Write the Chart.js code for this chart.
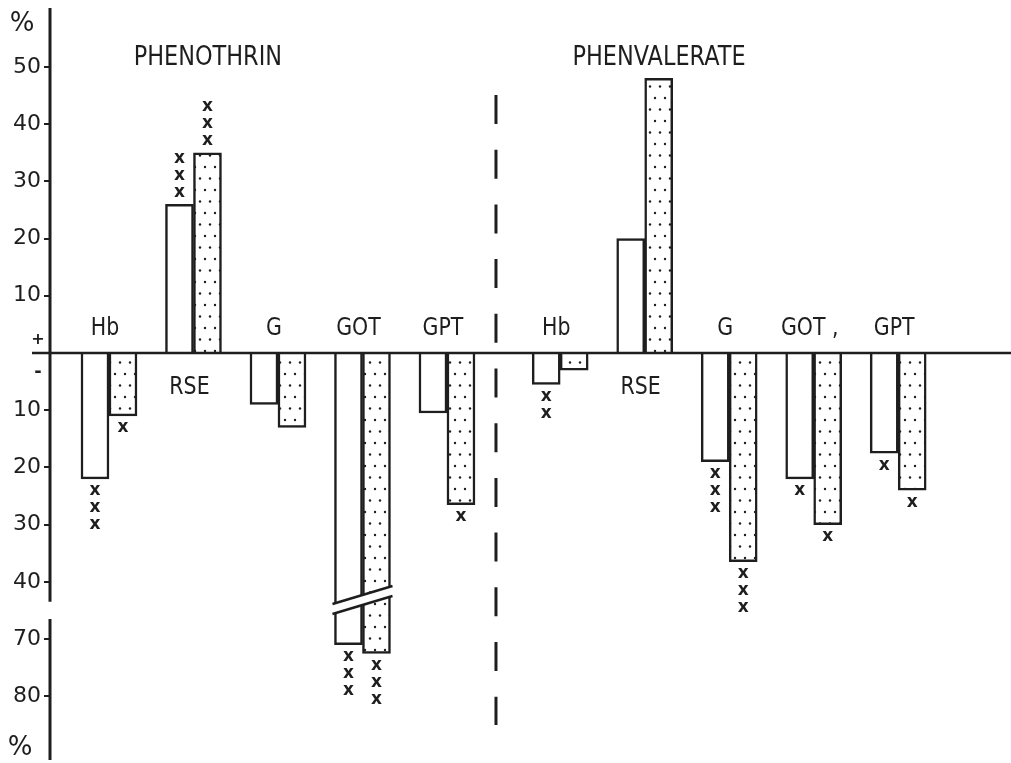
<!DOCTYPE html>
<html>
<head>
<meta charset="utf-8">
<title>Phenothrin / Phenvalerate</title>
<script src="https://cdn.jsdelivr.net/npm/chart.js@4.4.1/dist/chart.umd.min.js"></script>
<style>
  html, body { margin: 0; padding: 0; background: #fff; }
  #wrap { width: 1011px; height: 763px; position: relative; }
</style>
</head>
<body>
<div id="wrap"><canvas id="myChart"></canvas></div>
<script>
// values (% change, two bars per parameter)
var groupNames = ['PHENOTHRIN', 'PHENVALERATE'];
var phenothrinLabels = ['Hb', 'RSE', 'G', 'GOT', 'GPT'];
var phenvalerateLabels = ['Hb', 'RSE', 'G', 'GOT ,', 'GPT'];
var phenothrinOpen = [-22, 26, -9, -71, -10.5];
var phenothrinDotted = [-11, 35, -13, -72.5, -26.5];
var phenvalerateOpen = [-5.5, 20, -19, -22, -17.5];
var phenvalerateDotted = [-3, 48, -36.5, -30, -24];
// number of "x" marks on each bar
var phenothrinOpenSig = [3, 3, 0, 3, 0];
var phenothrinDottedSig = [1, 3, 0, 3, 1];
var phenvalerateOpenSig = [2, 0, 3, 1, 1];
var phenvalerateDottedSig = [0, 0, 3, 1, 1];
var yTicks = [50, 40, 30, 20, 10, -10, -20, -30, -40, -70, -80];

(function () {
    var INK = '#1e1e1e';
    var GROUP_GAP = 0.34;      // extra room between the two groups
    var BREAK_SHIFT = 20;      // axis is broken between 40 and 70
    var BREAK_TOP = -43.5, BREAK_BOTTOM = -46.5;
    var SEP_X = 4.58;          // dashed divider
    var FONT = '"DejaVu Sans", sans-serif';

    // real value -> position on the broken axis
    function toDisplay(v) {
        return v < -45 ? v + BREAK_SHIFT : v;
    }
    function pos(g, i) {
        return i + g * (5 + GROUP_GAP);
    }

    var openSets = [phenothrinOpen, phenvalerateOpen];
    var dottedSets = [phenothrinDotted, phenvalerateDotted];
    var openSig = [phenothrinOpenSig, phenvalerateOpenSig];
    var dottedSig = [phenothrinDottedSig, phenvalerateDottedSig];
    var labelSets = [phenothrinLabels, phenvalerateLabels];

    function points(sets) {
        var out = [];
        sets.forEach(function (vals, g) {
            vals.forEach(function (v, i) {
                out.push({ x: pos(g, i), y: toDisplay(v) });
            });
        });
        return out;
    }

    var canvas = document.getElementById('myChart');
    var ctx = canvas.getContext('2d');

    // stippled fill
    function makeDots() {
        var t = document.createElement('canvas');
        t.width = 10; t.height = 23;
        var g = t.getContext('2d');
        g.fillStyle = '#fff';
        g.fillRect(0, 0, 10, 23);
        g.fillStyle = INK;
        [[5, 6], [0, 17.5], [10, 17.5]].forEach(function (p) {
            g.beginPath();
            g.arc(p[0], p[1], 1.2, 0, Math.PI * 2);
            g.fill();
        });
        return ctx.createPattern(t, 'repeat');
    }

    function line(c, x1, y1, x2, y2, w) {
        c.lineWidth = w;
        c.beginPath();
        c.moveTo(x1, y1);
        c.lineTo(x2, y2);
        c.stroke();
    }

    function text(c, str, x, y, size, squeeze, weight) {
        c.font = (weight || 'normal') + ' ' + size + 'px ' + FONT;
        var w = c.measureText(str).width;
        c.textAlign = 'center';
        c.textBaseline = 'middle';
        c.fillText(str, x, y, w * squeeze);
    }

    var overlay = {
        id: 'overlay',
        afterDraw: function (chart) {
            var c = chart.ctx, xs = chart.scales.x, ys = chart.scales.y, area = chart.chartArea;
            var zero = ys.getPixelForValue(0);
            c.save();
            c.strokeStyle = INK;
            c.fillStyle = INK;
            c.lineCap = 'butt';

            // zero line and broken y axis
            line(c, 32, zero, area.right, zero, 2.5);
            line(c, area.left, area.top, area.left, ys.getPixelForValue(BREAK_TOP), 3);
            line(c, area.left, ys.getPixelForValue(BREAK_BOTTOM), area.left, area.bottom, 3);

            // dashed divider between the two compounds
            c.setLineDash([29, 25.7]);
            line(c, xs.getPixelForValue(SEP_X), 95, xs.getPixelForValue(SEP_X), 725, 3);
            c.setLineDash([]);

            // break marks across the long GOT bars
            var gx = xs.getPixelForValue(pos(0, 3));
            var gy = ys.getPixelForValue(-43);
            c.fillStyle = '#fff';
            c.beginPath();
            c.moveTo(gx - 30, gy + 5);
            c.lineTo(gx + 30, gy - 13);
            c.lineTo(gx + 30, gy - 3);
            c.lineTo(gx - 30, gy + 15);
            c.closePath();
            c.fill();
            c.fillStyle = INK;
            line(c, gx - 30, gy + 5, gx + 30, gy - 13, 2.5);
            line(c, gx - 30, gy + 15, gx + 30, gy - 3, 2.5);

            // significance marks
            function marks(vals, sig, g, dx) {
                vals.forEach(function (v, i) {
                    var end = ys.getPixelForValue(toDisplay(v));
                    var dir = v < 0 ? 1 : -1;
                    var x = xs.getPixelForValue(pos(g, i)) + dx;
                    for (var k = 0; k < sig[i]; k++) {
                        text(c, 'x', x, end + dir * (12 + 17 * k), 17, 1, 'bold');
                    }
                });
            }
            for (var g = 0; g < 2; g++) {
                marks(openSets[g], openSig[g], g, -14);
                marks(dottedSets[g], dottedSig[g], g, 14);

                // parameter names: below the line when the bars go up
                labelSets[g].forEach(function (name, i) {
                    var up = openSets[g][i] > 0;
                    var x = xs.getPixelForValue(pos(g, i)) - 4;
                    var y = ys.getPixelForValue(up ? -6 : 4.3);
                    text(c, name, x, y, 25, 0.82);
                });

                text(c, groupNames[g], xs.getPixelForValue(pos(g, 1.17)), ys.getPixelForValue(51.5), 27, 0.83);
            }

            // axis signs
            text(c, '%', 22, 24, 26, 1);
            text(c, '%', 20, 748, 26, 1);
            text(c, '+', area.left - 12, ys.getPixelForValue(2.3), 16, 1, 'bold');
            text(c, '-', area.left - 12, ys.getPixelForValue(-3.3), 18, 1, 'bold');
            c.restore();
        }
    };

    new Chart(ctx, {
        type: 'bar',
        data: {
            datasets: [{
                label: 'open',
                data: points(openSets),
                backgroundColor: '#fff',
                borderColor: INK,
                borderWidth: 2.5,
                barThickness: 28
            }, {
                label: 'dotted',
                data: points(dottedSets),
                backgroundColor: makeDots(),
                borderColor: INK,
                borderWidth: 2.5,
                barThickness: 28
            }]
        },
        options: {
            responsive: true,
            maintainAspectRatio: false,
            animation: false,
            layout: { padding: { top: 8, bottom: 3, left: 0, right: 0 } },
            plugins: {
                legend: { display: false },
                tooltip: { enabled: false }
            },
            scales: {
                x: {
                    type: 'linear',
                    display: false,
                    min: -0.698,
                    max: 10.675,
                    offset: false
                },
                y: {
                    min: -71.15,
                    max: 60.3,
                    afterFit: function (s) {
                        // keep the plot area where the figure has it
                        s.width = 50;
                        s.paddingTop = 0;
                        s.paddingBottom = 0;
                    },
                    afterBuildTicks: function (s) {
                        s.ticks = yTicks.map(function (v) { return { value: toDisplay(v) }; });
                    },
                    ticks: {
                        autoSkip: false,
                        padding: 3,
                        color: INK,
                        font: { family: FONT, size: 22 },
                        callback: function (value) {
                            return String(value < -45 ? -(value - BREAK_SHIFT) : Math.abs(value));
                        }
                    },
                    grid: {
                        drawOnChartArea: false,
                        tickLength: 6,
                        color: INK,
                        lineWidth: 2
                    },
                    border: { display: false }
                }
            }
        },
        plugins: [overlay]
    });
})();
</script>
</body>
</html>
